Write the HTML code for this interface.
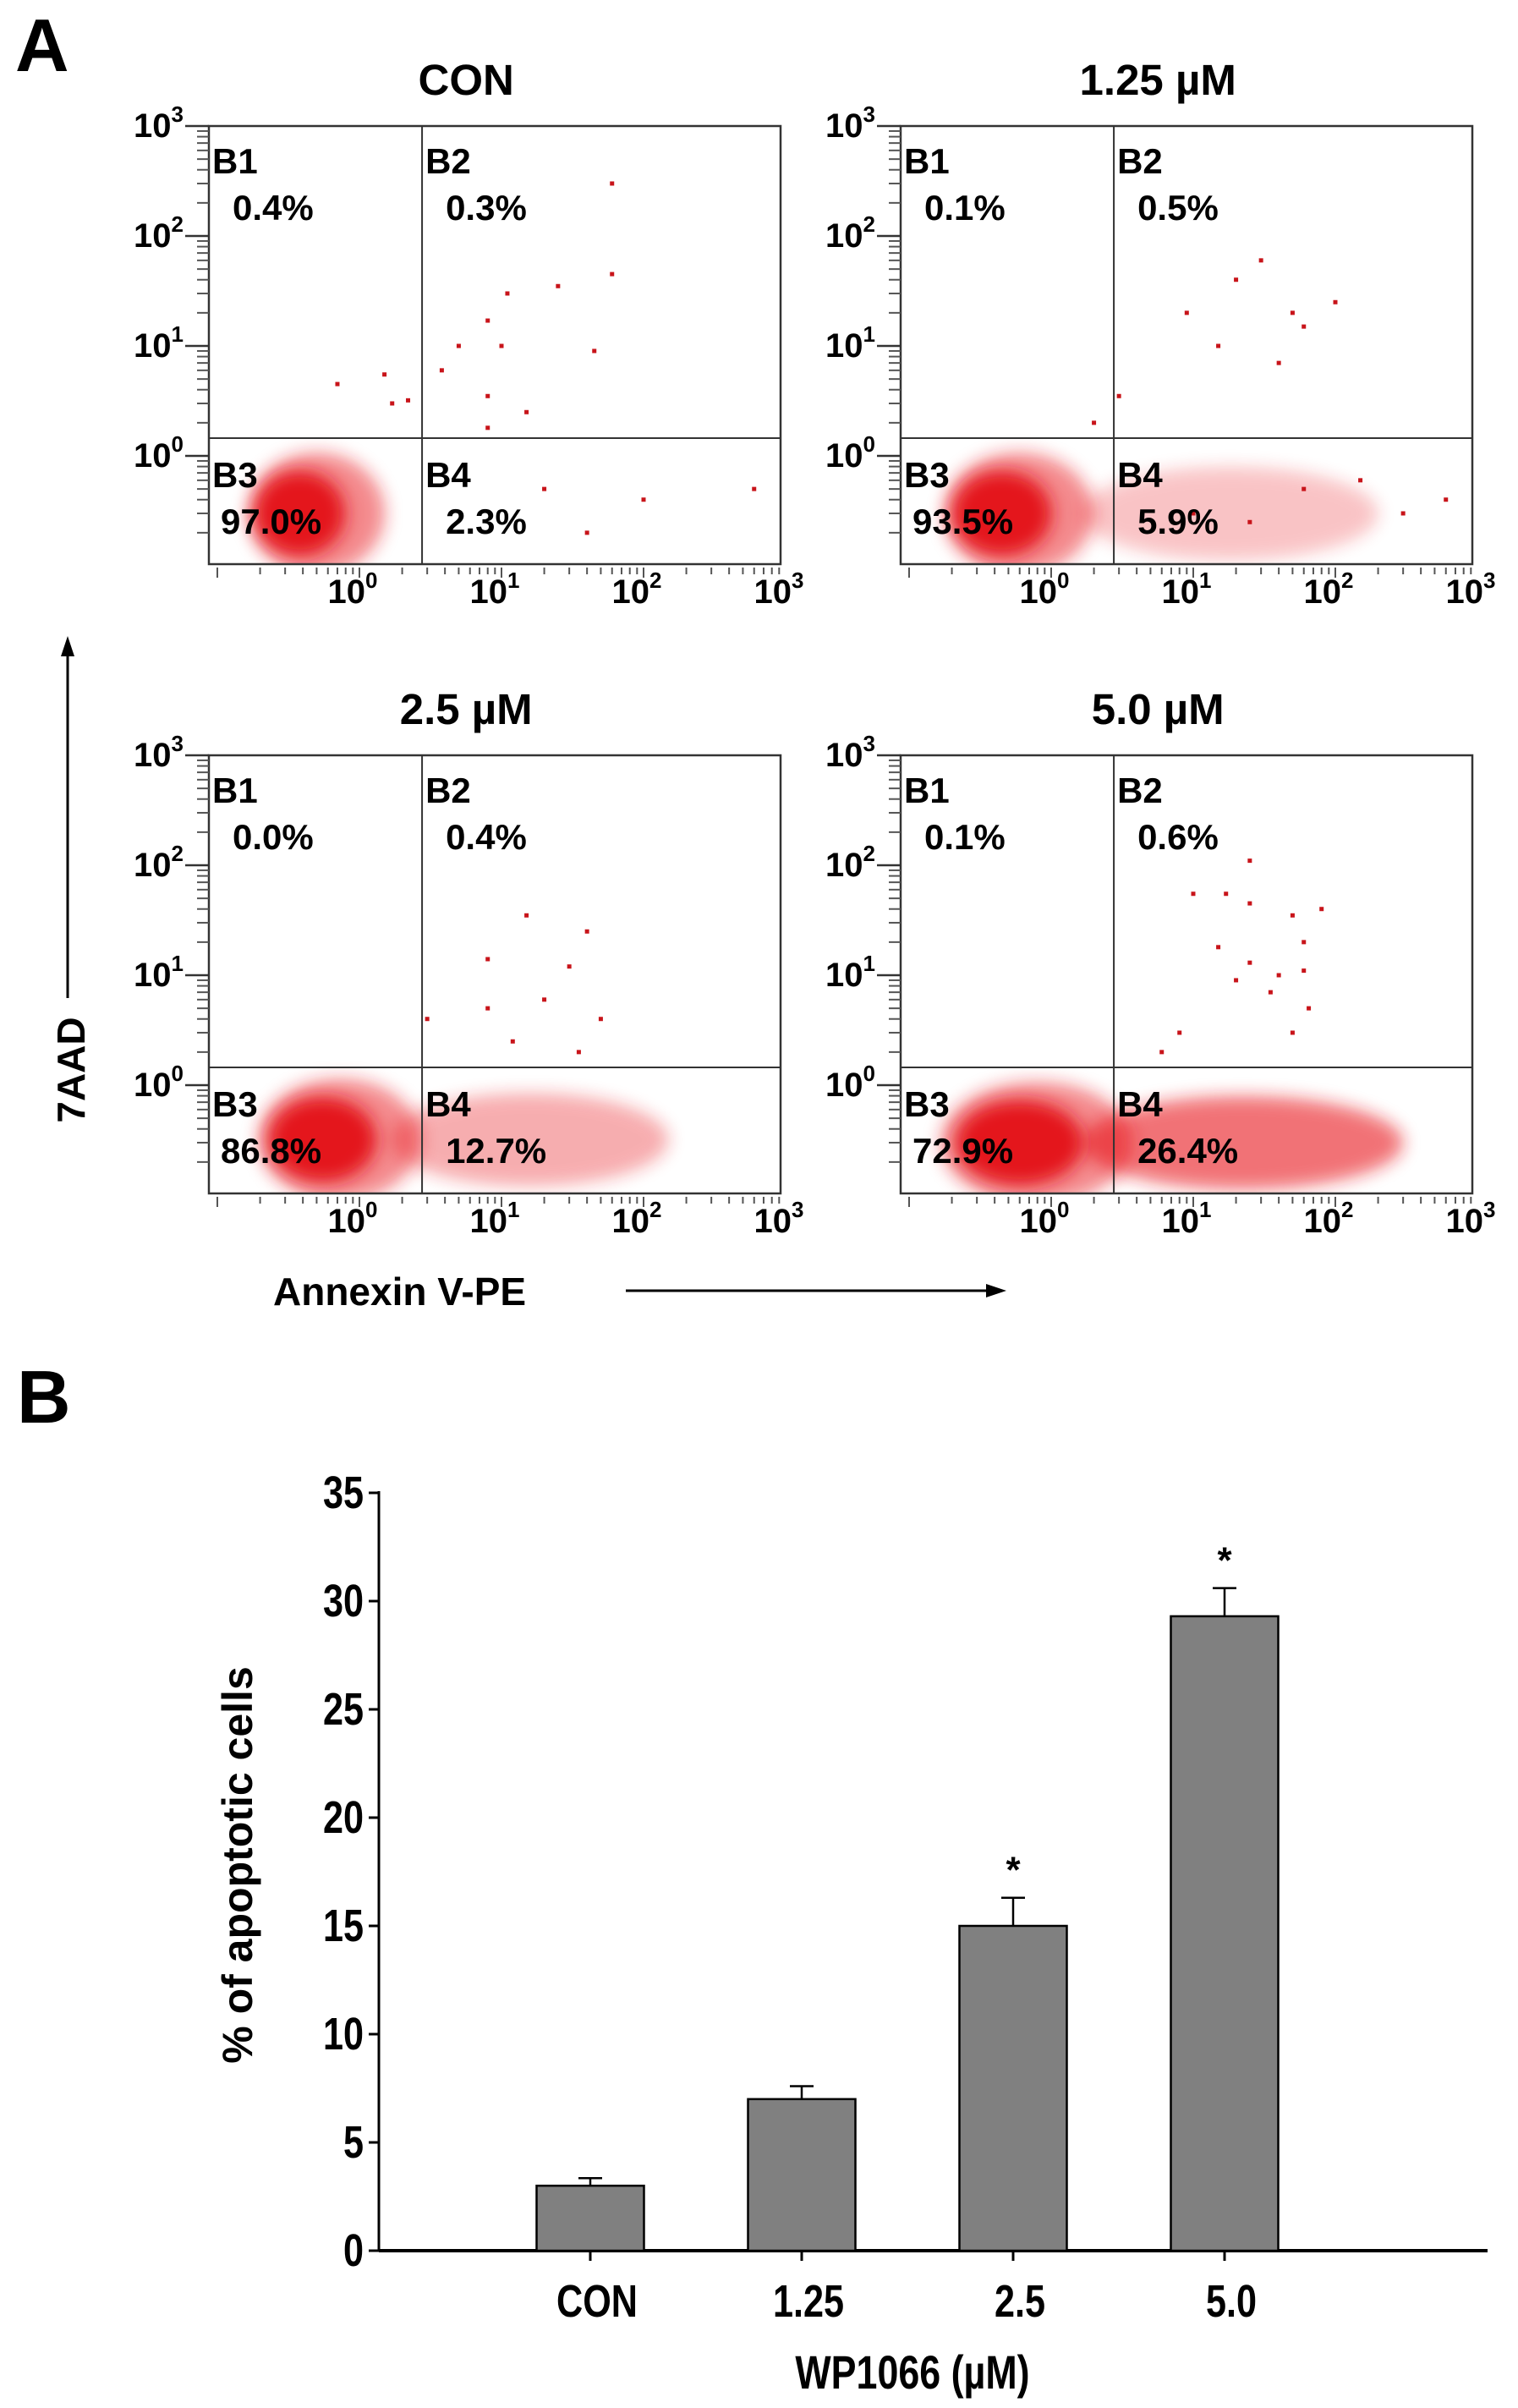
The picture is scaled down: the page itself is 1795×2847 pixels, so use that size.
<!DOCTYPE html>
<html><head><meta charset="utf-8">
<style>
html,body{margin:0;padding:0;background:#fff;}
body{width:1795px;height:2842px;overflow:hidden;font-family:"Liberation Sans",sans-serif;}
svg text{font-family:"Liberation Sans",sans-serif;font-weight:bold;}
</style></head>
<body>
<svg id="fig" width="1795" height="2842" viewBox="0 0 1795 2842" xmlns="http://www.w3.org/2000/svg">
<text x="18" y="84" font-size="88">A</text>
<text x="20" y="1682" font-size="88">B</text>
<g id="flow"></g>
<g>
<text transform="translate(100,1265) rotate(-90)" text-anchor="middle" font-size="46">7AAD</text>
<line x1="80" y1="1180" x2="80" y2="770" stroke="#000" stroke-width="3"/>
<polygon points="80,752 72,776 88,776" fill="#000"/>
</g>
<g>
<text x="323" y="1543" font-size="46">Annexin V-PE</text>
<line x1="740" y1="1526" x2="1170" y2="1526" stroke="#000" stroke-width="3"/>
<polygon points="1190,1526 1166,1518 1166,1534" fill="#000"/>
</g>
<g id="bars"></g>
</svg>
<script>
// ---------- Flow panel data ----------
const panelTitles = ["CON","1.25 µM","2.5 µM","5.0 µM"];
const b1Pct = ["0.4%","0.1%","0.0%","0.1%"];
const b2Pct = ["0.3%","0.5%","0.4%","0.6%"];
const b3Pct = ["97.0%","93.5%","86.8%","72.9%"];
const b4Pct = ["2.3%","5.9%","12.7%","26.4%"];
const clusterX = [0.38,0.45,0.55,0.6];
const clusterY = [0.3,0.3,0.32,0.3];
const clusterSpreadX = [0.32,0.35,0.38,0.45];
const tailMax = [3,200,150,300];
const tailOpacity = [0.0,0.25,0.35,0.6];
const sparse = [
 [[0.7,4.5],[1.5,5.5],[1.7,3],[2.2,3.2],[8,3.5],[10,10],[11,30],[8,17],[5,10],[60,300],[60,45],[25,35],[45,9],[15,2.5],[3.8,6],[8,1.8],[20,0.5],[100,0.4],[40,0.2],[600,0.5]],
 [[2,2],[3,3.5],[30,60],[50,20],[15,10],[100,25],[60,15],[9,20],[40,7],[20,40],[150,0.6],[300,0.3],[60,0.5],[25,0.25],[600,0.4],[10,0.3]],
 [[15,35],[30,12],[8,14],[40,25],[20,6],[50,4],[12,2.5],[35,2],[8,5],[3,4]],
 [[25,110],[10,55],[17,55],[25,45],[50,35],[80,40],[60,20],[15,18],[25,13],[40,10],[60,11],[20,9],[35,7],[65,5],[50,3],[8,3],[6,2]]
];
const xTickLabels = ["0","1","2","3"];
const yTickLabels = ["0","1","2","3"];

const NS="http://www.w3.org/2000/svg";
function mk(tag,attrs,parent){const e=document.createElementNS(NS,tag);for(const k in attrs)e.setAttribute(k,attrs[k]);if(parent)parent.appendChild(e);return e;}
const flow=document.getElementById('flow');
const defs=mk('defs',{},flow);
const blur=mk('filter',{id:'bl',x:'-50%',y:'-50%',width:'200%',height:'200%'},defs);
mk('feGaussianBlur',{stdDeviation:'10'},blur);
const W=676,H=518,DEC=168,X0=178,YDEC=130,Y0=390;
const origins=[[247,149],[1065,149],[247,893],[1065,893]];
function sx(v){return X0+DEC*Math.log10(v);}
function sy(v){return Y0-YDEC*Math.log10(v);}
const divX=2.76, divY=1.45;
for(let p=0;p<4;p++){
  const [ox,oy]=origins[p];
  const g=mk('g',{transform:`translate(${ox},${oy})`},flow);
  
  
  const cp=mk('clipPath',{id:'cp'+p},defs); mk('rect',{x:0,y:0,width:W,height:H},cp);
  const t=mk('text',{x:W*0.45,y:-37,'text-anchor':'middle','font-size':'51'},g); t.textContent=panelTitles[p];
  
  
  const dots=mk('g',{'clip-path':`url(#cp${p})`},g);
  if(tailOpacity[p]>0){
    const x1=sx(divX*0.6), x2=sx(tailMax[p]);
    mk('ellipse',{cx:(x1+x2)/2,cy:sy(clusterY[p]),rx:(x2-x1)/2,ry:55,fill:'#e8141a',opacity:tailOpacity[p],filter:'url(#bl)'},dots);
  }
  const cx=sx(clusterX[p]), cy=sy(clusterY[p]);
  mk('ellipse',{cx:cx+20,cy:cy,rx:DEC*clusterSpreadX[p]*1.5,ry:72,fill:'#e8141a',opacity:0.5,filter:'url(#bl)'},dots);
  const core=mk('ellipse',{cx:cx,cy:cy,rx:DEC*clusterSpreadX[p],ry:50,fill:'#e4141a',filter:'url(#bl)'},dots);
  
  
  sparse[p].forEach(d=>{const r=mk('rect',{x:sx(d[0])-2.5,y:sy(d[1])-2.5,width:5,height:5,fill:'#c8141a'},dots);
    
    });
  mk('rect',{x:0,y:0,width:W,height:H,fill:'none',stroke:'#333','stroke-width':2.5},g);
  mk('line',{x1:sx(divX),y1:0,x2:sx(divX),y2:H,stroke:'#333','stroke-width':2},g);
  mk('line',{x1:0,y1:sy(divY),x2:W,y2:sy(divY),stroke:'#333','stroke-width':2},g);
  const dx=sx(divX), dy=sy(divY);
  const L=[["B1",b1Pct[p],4,56,28,111],["B2",b2Pct[p],dx+4,56,dx+28,111],["B3",b3Pct[p],4,dy+58,14,dy+113],["B4",b4Pct[p],dx+4,dy+58,dx+28,dy+113]];
  L.forEach(l=>{const a=mk('text',{x:l[2],y:l[3],'font-size':'42'},g);a.textContent=l[0];
    
    
    const b=mk('text',{x:l[4],y:l[5],'font-size':'42'},g);b.textContent=l[1];
    
    });
  for(let d=0;d<=3;d++){
    const yy=Y0-YDEC*d;
    mk('line',{x1:-28,y1:yy,x2:0,y2:yy,stroke:'#333','stroke-width':2.5},g);
    const tl=mk('text',{x:-30,y:yy+13,'text-anchor':'end','font-size':'40'},g);
    tl.innerHTML='10<tspan dy="-18" font-size="26">'+yTickLabels[d]+'</tspan>';
    
    
    if(d<3)for(let k=2;k<10;k++){const y2=yy-YDEC*Math.log10(k);mk('line',{x1:-14,y1:y2,x2:0,y2:y2,stroke:'#555','stroke-width':2},g);}
  }
  for(let k=2;k<10;k++){const y2=Y0+YDEC*(1-Math.log10(k));if(y2<H)mk('line',{x1:-14,y1:y2,x2:0,y2:y2,stroke:'#555','stroke-width':2},g);}
  for(let d=-1;d<=2;d++){
    for(let k=1;k<10;k++){const xx=X0+DEC*(d+Math.log10(k));if(xx<0)continue;
      mk('line',{x1:xx,y1:H+4,x2:xx,y2:H+(k==1?16:12),stroke:'#555','stroke-width':2},g);}
  }
  for(let d=0;d<=3;d++){
    const tl=mk('text',{x:X0+DEC*d-8,y:H+46,'text-anchor':'middle','font-size':'40'},g);
    tl.innerHTML='10<tspan dy="-18" font-size="26">'+xTickLabels[d]+'</tspan>';
    
    
  }
}

// ---------- Bar chart data ----------
const barCats = ["CON","1.25","2.5","5.0"];
const barVals = [3.0,7.0,15.0,29.3];
const barErr = [0.35,0.6,1.3,1.3];
const barSig = [false,false,true,true];
const yTicks = [0,5,10,15,20,25,30,35];

const bars=document.getElementById('bars');
const AX=448, AY=2661, PX=25.6, XR=1759;
const catX=[698,948,1198,1448], BW=127;
function by(v){return AY-v*PX;}
mk('line',{x1:AX,y1:by(35)-2,x2:AX,y2:AY,stroke:'#000','stroke-width':3},bars);
mk('line',{x1:AX,y1:AY,x2:XR,y2:AY,stroke:'#000','stroke-width':4},bars);
yTicks.forEach(v=>{mk('line',{x1:AX-12,y1:by(v),x2:AX,y2:by(v),stroke:'#000','stroke-width':3},bars);
  const t=mk('text',{x:0,y:0,'text-anchor':'end','font-size':'54',transform:`translate(${AX-18},${by(v)+18}) scale(0.8,1)`},bars);t.textContent=v;
  
  });
barCats.forEach((c,i)=>{
  const x=catX[i];
  const e=barVals[i]+barErr[i];
  mk('line',{x1:x,y1:by(barVals[i]),x2:x,y2:by(e),stroke:'#000','stroke-width':2.5},bars);
  mk('line',{x1:x-14,y1:by(e),x2:x+14,y2:by(e),stroke:'#000','stroke-width':2.5},bars);
  const r=mk('rect',{x:x-BW/2,y:by(barVals[i]),width:BW,height:barVals[i]*PX,fill:'#808080',stroke:'#000','stroke-width':2.5},bars);
  
  
  mk('line',{x1:x,y1:AY,x2:x,y2:AY+12,stroke:'#000','stroke-width':3},bars);
  const t=mk('text',{x:0,y:0,'text-anchor':'middle','font-size':'54',transform:`translate(${x+8},${2739}) scale(0.8,1)`},bars);t.textContent=c;
  
  
  if(barSig[i]){const s=mk('text',{x:x,y:by(e)-18,'text-anchor':'middle','font-size':'44'},bars);s.textContent='*';
    
    }
});
const xt=mk('text',{x:0,y:0,'text-anchor':'middle','font-size':'56',transform:'translate(1079,2824) scale(0.8,1)'},bars);xt.textContent='WP1066 (µM)';


const yt=mk('text',{x:0,y:0,'text-anchor':'middle','font-size':'50',transform:'translate(298,2205) rotate(-90)'},bars);yt.textContent='% of apoptotic cells';


</script>
</body></html>
